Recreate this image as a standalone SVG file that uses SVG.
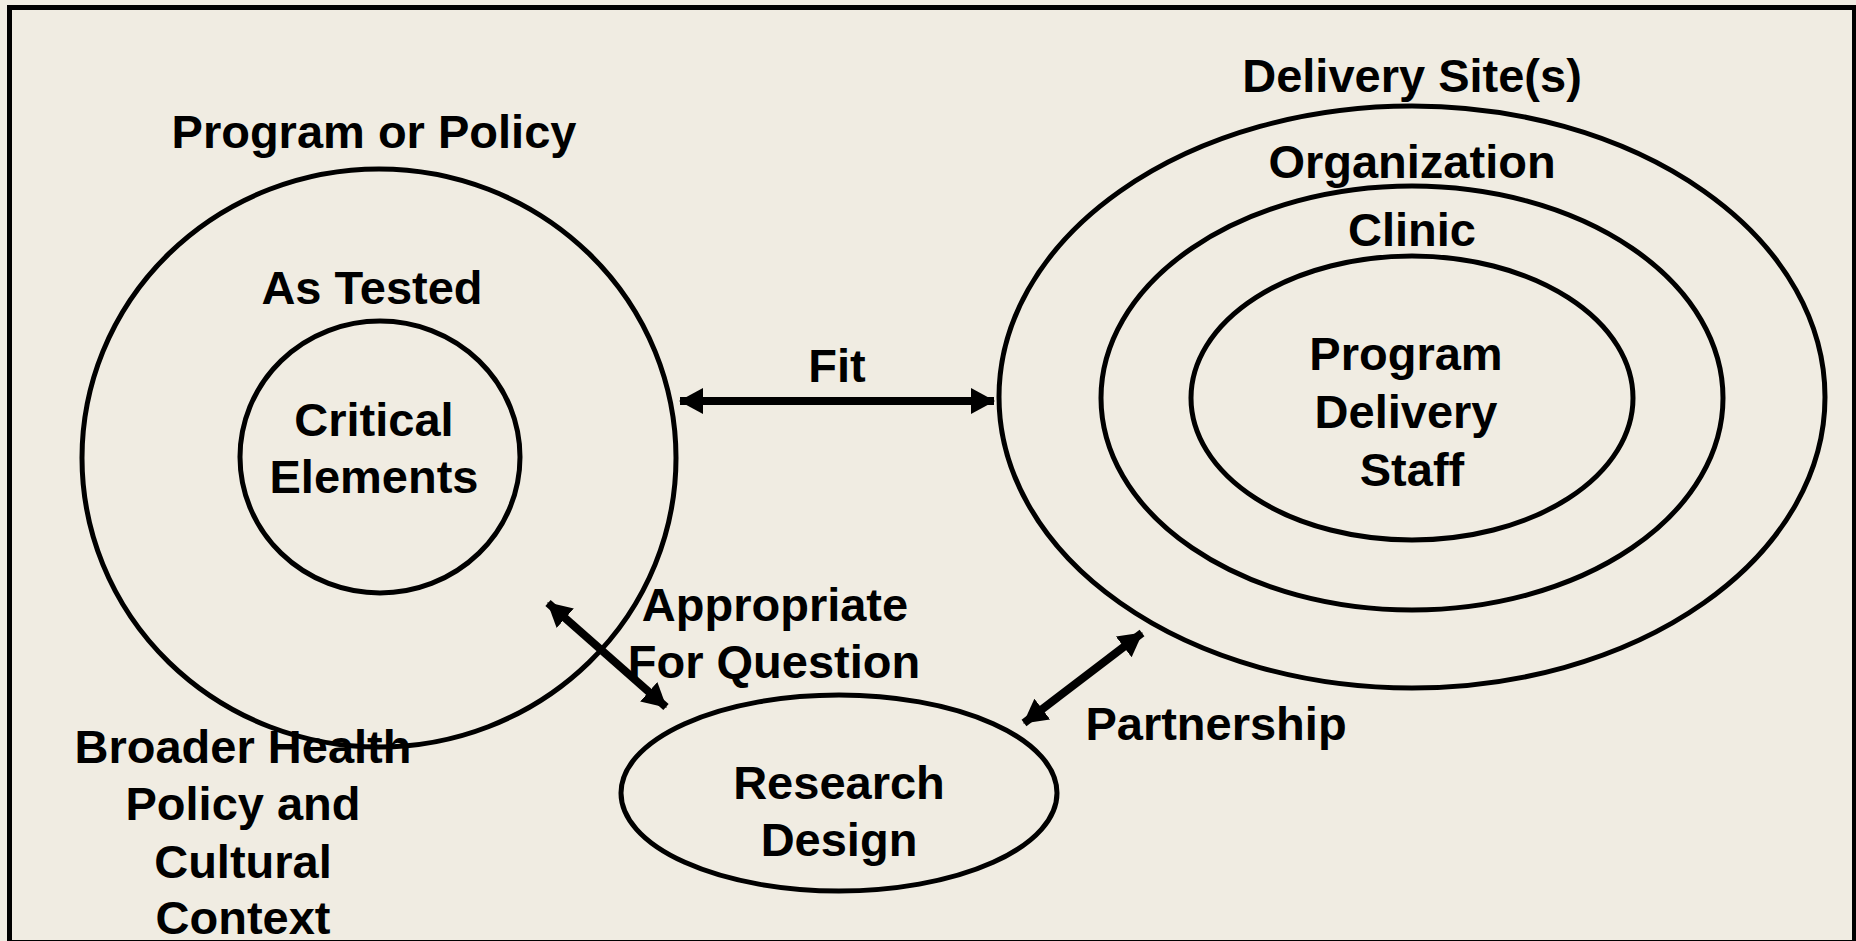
<svg xmlns="http://www.w3.org/2000/svg" width="1856" height="941" viewBox="0 0 1856 941">
  <style>
    .ring { fill: none; stroke: #000; stroke-width: 5; }
    .lbl { font-family: "Liberation Sans", Arial, sans-serif; font-weight: bold; font-size: 47px; fill: #000; text-anchor: middle; }
    .link { stroke: #000; stroke-width: 8; fill: none; marker-start: url(#head); marker-end: url(#head); }
  </style>
  <defs>
    <marker id="head" viewBox="0 0 24 26" refX="23" refY="13" markerWidth="24" markerHeight="26" markerUnits="userSpaceOnUse" orient="auto-start-reverse">
      <path d="M0,0 L24,13 L0,26 Z" fill="#000"/>
    </marker>
  </defs>

  <rect x="0" y="0" width="1856" height="941" fill="#F0ECE2"/>
  <rect x="9.5" y="7.5" width="1845" height="935" fill="none" stroke="#000" stroke-width="5"/>

  <!-- program or policy -->
  <g id="program-policy">
    <ellipse class="ring" cx="379" cy="458" rx="297" ry="289"/>
    <text class="lbl" x="374" y="148">Program or Policy</text>
    <text class="lbl" x="372" y="304">As Tested</text>
  </g>
  <g id="critical-elements">
    <ellipse class="ring" cx="380" cy="457" rx="140" ry="136"/>
    <text class="lbl" x="374" y="436">Critical</text>
    <text class="lbl" x="374" y="493">Elements</text>
  </g>

  <!-- delivery site rings -->
  <g id="delivery-site">
    <ellipse class="ring" cx="1412" cy="397" rx="413" ry="291"/>
    <text class="lbl" x="1412" y="92">Delivery Site(s)</text>
  </g>
  <g id="organization">
    <ellipse class="ring" cx="1412" cy="398" rx="311" ry="212"/>
    <text class="lbl" x="1412" y="178">Organization</text>
  </g>
  <g id="clinic">
    <ellipse class="ring" cx="1412" cy="398" rx="221" ry="142"/>
    <text class="lbl" x="1412" y="246">Clinic</text>
  </g>
  <g id="delivery-staff">
    <text class="lbl" x="1406" y="370">Program</text>
    <text class="lbl" x="1406" y="428">Delivery</text>
    <text class="lbl" x="1412" y="486">Staff</text>
  </g>

  <!-- research design -->
  <g id="research-design">
    <ellipse class="ring" cx="839" cy="793" rx="218" ry="98"/>
    <text class="lbl" x="839" y="799">Research</text>
    <text class="lbl" x="839" y="856">Design</text>
  </g>

  <!-- surrounding context -->
  <g id="context">
    <text class="lbl" x="243" y="763">Broader Health</text>
    <text class="lbl" x="243" y="820">Policy and</text>
    <text class="lbl" x="243" y="878">Cultural</text>
    <text class="lbl" x="243" y="934">Context</text>
  </g>

  <!-- connectors -->
  <g id="connectors">
    <line class="link" x1="680" y1="401" x2="994" y2="401"/>
    <text class="lbl" x="837" y="382">Fit</text>
    <line class="link" x1="548" y1="603" x2="666" y2="707"/>
    <text class="lbl" x="775" y="621">Appropriate</text>
    <text class="lbl" x="774" y="678">For Question</text>
    <line class="link" x1="1024" y1="723" x2="1142" y2="633"/>
    <text class="lbl" x="1216" y="740">Partnership</text>
  </g>
</svg>
